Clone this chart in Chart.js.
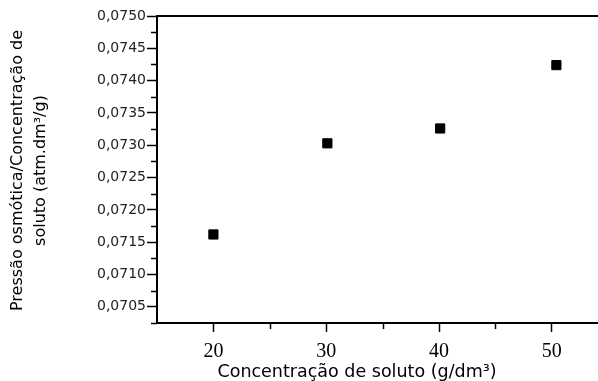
<!DOCTYPE html>
<html>
<head>
<meta charset="utf-8">
<script src="https://cdn.jsdelivr.net/npm/chart.js@4"></script>
<style>
  html, body { margin: 0; padding: 0; background: #fff; }
  #wrap { width: 598px; height: 381px; }
</style>
</head>
<body>
<div id="wrap"><canvas id="osmChart" width="598" height="381"></canvas></div>
<script>
// dados
const concentracao = [20, 30.1, 40.1, 50.4];
const pressaoRel = [0.07162, 0.07303, 0.07326, 0.07424];

const xMajor = [20, 30, 40, 50];
const xMinor = [25, 35, 45];
const yMajor = [0.0705, 0.0710, 0.0715, 0.0720, 0.0725, 0.0730, 0.0735, 0.0740, 0.0745, 0.0750];
const yMinor = [0.07025, 0.07075, 0.07125, 0.07175, 0.07225, 0.07275, 0.07325, 0.07375, 0.07425, 0.07475];

const xTitle = 'Concentração de soluto (g/dm³)';
const yTitle = ['Pressão osmótica/Concentração de', 'soluto (atm.dm³/g)'];

const fmt = v => v.toFixed(4).replace('.', ',');

// ticks menores + títulos dos eixos
const extras = {
    id: 'extras',
    afterDraw(chart) {
        const c = chart.ctx;
        const xs = chart.scales.x, ys = chart.scales.y;
        const a = chart.chartArea;
        c.save();
        c.strokeStyle = '#000';
        c.lineWidth = 1.5;
        c.beginPath();
        xMinor.forEach(v => {
            const px = Math.round(xs.getPixelForValue(v)) + 0.5;
            c.moveTo(px, a.bottom);
            c.lineTo(px, a.bottom + 6);
        });
        yMinor.forEach(v => {
            const py = Math.round(ys.getPixelForValue(v)) + 0.5;
            c.moveTo(a.left, py);
            c.lineTo(a.left - 6, py);
        });
        c.stroke();

        c.fillStyle = '#000';
        c.textAlign = 'center';
        c.textBaseline = 'middle';
        c.font = '17.5px "DejaVu Sans"';
        c.fillText(xTitle, 357, 372);

        c.font = '16px "DejaVu Sans"';
        c.translate(0, (a.top + a.bottom) / 2 + 1);
        c.rotate(-Math.PI / 2);
        c.fillText(yTitle[0], 0, 18);
        c.fillText(yTitle[1], 0, 41);
        c.restore();
    }
};

const ctx = document.getElementById('osmChart').getContext('2d');
const chart = new Chart(ctx, {
    type: 'scatter',
    data: {
        datasets: [{
            data: concentracao.map((x, i) => ({ x: x, y: pressaoRel[i] })),
            pointStyle: 'rect',
            pointRadius: 6.5,
            backgroundColor: '#000',
            borderColor: '#000',
            borderWidth: 1
        }]
    },
    options: {
        responsive: false,
        animation: false,
        layout: { autoPadding: false, padding: { left: 0, right: 1, top: 0, bottom: 0 } },
        plugins: { legend: { display: false }, tooltip: { enabled: false } },
        scales: {
            x: {
                type: 'linear',
                position: 'bottom',
                min: 15,
                max: 54,
                afterBuildTicks: s => { s.ticks = xMajor.map(v => ({ value: v })); },
                afterFit: s => { s.height = 58; s.paddingLeft = 0; s.paddingRight = 0; },
                border: { display: true, color: '#000', width: 2 },
                grid: { drawOnChartArea: false, tickLength: 9, tickColor: '#000', tickWidth: 1.5 },
                ticks: {
                    color: '#000',
                    padding: 8,
                    maxRotation: 0,
                    font: { family: '"Liberation Serif"', size: 20 },
                    callback: v => String(v)
                }
            },
            x2: {
                type: 'linear',
                position: 'top',
                min: 15,
                max: 54,
                afterFit: s => { s.height = 16; s.paddingLeft = 0; s.paddingRight = 0; },
                border: { display: true, color: '#000', width: 2 },
                grid: { display: false },
                ticks: { display: false }
            },
            y: {
                type: 'linear',
                min: 0.07025,
                max: 0.0750,
                afterBuildTicks: s => { s.ticks = yMajor.map(v => ({ value: v })); },
                afterFit: s => { s.width = 157; s.paddingTop = 0; s.paddingBottom = 0; },
                border: { display: true, color: '#000', width: 2 },
                grid: { drawOnChartArea: false, tickLength: 10, tickColor: '#000', tickWidth: 1.5 },
                ticks: {
                    color: '#222',
                    padding: 1,
                    font: { family: '"DejaVu Sans"', size: 14 },
                    callback: v => fmt(v)
                }
            }
        }
    },
    plugins: [extras]
});
</script>
</body>
</html>
